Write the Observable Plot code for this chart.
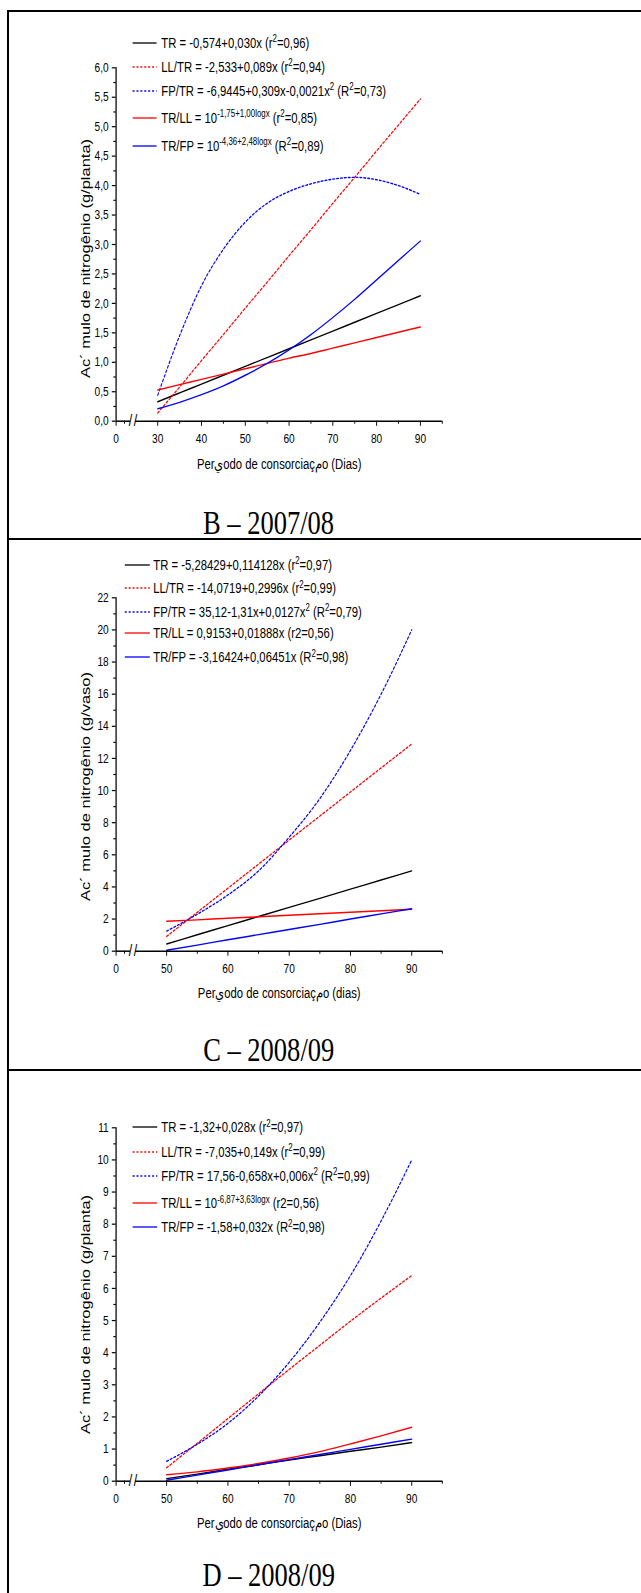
<!DOCTYPE html>
<html>
<head>
<meta charset="utf-8">
<script src="https://cdn.jsdelivr.net/npm/d3@7"></script>
<script src="https://cdn.jsdelivr.net/npm/@observablehq/plot@0.6"></script>
<style>
  body { margin: 0; background: #fff; }
  #page { position: relative; width: 641px; height: 1593px; overflow: hidden; background: #fff;
          font-family: "Liberation Sans", Arial, sans-serif; color: #000; }
  #inner { position: absolute; left: 0; top: 0; height: 1593px; transform-origin: 0 0; }
  .panel { position: absolute; left: 0; }
  .hline { position: absolute; left: 7px; right: 0; height: 2px; background: #000; z-index: 5; }
  .vline { position: absolute; left: 7px; top: 10px; width: 2px; bottom: 0; background: #000; z-index: 5; }
  .title { position: absolute; font-family: "Liberation Serif", "Times New Roman", serif; font-size: 34px;
           line-height: 0.7; white-space: nowrap; transform: translate(-50%, -50%); z-index: 4; }
  .leg { position: absolute; height: 16px; z-index: 4; white-space: nowrap; }
  .leg svg { position: absolute; left: 0; top: 0; overflow: visible; }
  .leg span { position: absolute; top: 0; font-size: 14.5px; line-height: 16px; }
  .leg sup { font-size: 0.7em; vertical-align: 0; position: relative; top: -0.55em; }
</style>
</head>
<body>
<div id="page"><div id="inner"></div></div>
<script>
// ---------------- data ----------------
const seriesKeys = ["TR", "LL/TR", "FP/TR", "TR/LL", "TR/FP"];

// Panel B – 2007/08
const daysB = [30, 35, 40, 45, 50, 55, 60, 65, 70, 75, 80, 85, 90];
const trB   = [0.33, 0.48, 0.63, 0.78, 0.93, 1.08, 1.23, 1.38, 1.53, 1.68, 1.83, 1.98, 2.13];
const lltrB = [0.14, 0.58, 1.03, 1.47, 1.92, 2.36, 2.81, 3.25, 3.70, 4.14, 4.59, 5.03, 5.47];
const fptrB = [0.44, 1.45, 2.30, 2.92, 3.38, 3.70, 3.90, 4.03, 4.11, 4.14, 4.10, 4.00, 3.85];
const trllB = [0.53, 0.62, 0.71, 0.80, 0.89, 0.98, 1.07, 1.15, 1.24, 1.33, 1.42, 1.51, 1.60];
const trfpB = [0.21, 0.32, 0.45, 0.60, 0.78, 0.98, 1.21, 1.47, 1.76, 2.07, 2.40, 2.73, 3.06];
const eqB = [
  "TR = -0,574+0,030x (r<sup>2</sup>=0,96)",
  "LL/TR = -2,533+0,089x (r<sup>2</sup>=0,94)",
  "FP/TR = -6,9445+0,309x-0,0021x<sup>2</sup> (R<sup>2</sup>=0,73)",
  "TR/LL = 10<sup>-1,75+1,00logx</sup> (r<sup>2</sup>=0,85)",
  "TR/FP = 10<sup>-4,36+2,48logx</sup> (R<sup>2</sup>=0,89)"
];
const yTicksB = [0, 0.5, 1, 1.5, 2, 2.5, 3, 3.5, 4, 4.5, 5, 5.5, 6];
const yMinorB = [0.25, 0.75, 1.25, 1.75, 2.25, 2.75, 3.25, 3.75, 4.25, 4.75, 5.25, 5.75];
const xTicksB = [0, 30, 40, 50, 60, 70, 80, 90];
const xMinorB = [5, 35, 45, 55, 65, 75, 85, 95];

// Panel C – 2008/09
const daysC = [50, 55, 60, 65, 70, 75, 80, 85, 90];
const trC   = [0.45, 1.02, 1.59, 2.16, 2.73, 3.29, 3.86, 4.43, 5.00];
const lltrC = [0.92, 2.42, 3.92, 5.42, 6.92, 8.41, 9.91, 11.41, 12.90];
const fptrC = [1.25, 2.30, 3.50, 5.00, 7.10, 9.50, 12.50, 16.00, 20.00];
const trllC = [1.86, 1.95, 2.05, 2.14, 2.24, 2.33, 2.42, 2.52, 2.61];
const trfpC = [0.06, 0.38, 0.71, 1.03, 1.35, 1.67, 2.00, 2.32, 2.64];
const eqC = [
  "TR = -5,28429+0,114128x (r<sup>2</sup>=0,97)",
  "LL/TR = -14,0719+0,2996x (r<sup>2</sup>=0,99)",
  "FP/TR = 35,12-1,31x+0,0127x<sup>2</sup> (R<sup>2</sup>=0,79)",
  "TR/LL = 0,9153+0,01888x (r2=0,56)",
  "TR/FP = -3,16424+0,06451x (R<sup>2</sup>=0,98)"
];
const yTicksC = [0, 2, 4, 6, 8, 10, 12, 14, 16, 18, 20, 22];
const yMinorC = [1, 3, 5, 7, 9, 11, 13, 15, 17, 19, 21];
const xTicksC = [0, 50, 60, 70, 80, 90];
const xMinorC = [5, 55, 65, 75, 85, 95];

// Panel D – 2008/09
const daysD = [50, 55, 60, 65, 70, 75, 80, 85, 90];
const trD   = [0.08, 0.22, 0.37, 0.51, 0.66, 0.79, 0.93, 1.06, 1.20];
const lltrD = [0.42, 1.18, 1.95, 2.72, 3.48, 4.23, 4.98, 5.70, 6.40];
const fptrD = [0.62, 1.15, 1.80, 2.65, 3.70, 4.95, 6.40, 8.10, 10.00];
const trllD = [0.20, 0.29, 0.41, 0.55, 0.72, 0.92, 1.16, 1.41, 1.68];
const trfpD = [0.03, 0.19, 0.35, 0.51, 0.67, 0.83, 0.99, 1.15, 1.31];
const eqD = [
  "TR = -1,32+0,028x (r<sup>2</sup>=0,97)",
  "LL/TR = -7,035+0,149x (r<sup>2</sup>=0,99)",
  "FP/TR = 17,56-0,658x+0,006x<sup>2</sup> (R<sup>2</sup>=0,99)",
  "TR/LL = 10<sup>-6,87+3,63logx</sup> (r2=0,56)",
  "TR/FP = -1,58+0,032x (R<sup>2</sup>=0,98)"
];
const yTicksD = [0, 1, 2, 3, 4, 5, 6, 7, 8, 9, 10, 11];
const yMinorD = [0.5, 1.5, 2.5, 3.5, 4.5, 5.5, 6.5, 7.5, 8.5, 9.5, 10.5];
const xTicksD = [0, 50, 60, 70, 80, 90];
const xMinorD = [5, 55, 65, 75, 85, 95];

const yLabelB = "Ac\u00B4 mulo de nitrogênio (g/planta)";
const yLabelC = "Ac\u00B4 mulo de nitrogênio (g/vaso)";
const yLabelD = "Ac\u00B4 mulo de nitrogênio (g/planta)";
const xLabelB = "Per\u064Aodo de consorcia\u00E7\u0645o (Dias)";
const xLabelC = "Per\u064Aodo de consorcia\u00E7\u0645o (dias)";
const xLabelD = "Per\u064Aodo de consorcia\u00E7\u0645o (Dias)";
const titles = ["B \u2013 2007/08", "C \u2013 2008/09", "D \u2013 2008/09"];

// ---------------- styling / layout ----------------
const S = 0.78;                 // the original figure is horizontally condensed
const U = v => v / S;           // page x -> unscaled x
const W = 641 / S;
const inner = document.getElementById("inner");
inner.style.width = W + "px";
inner.style.transform = `scaleX(${S})`;

const styleOf = {
  "TR":    {stroke: "#000000", dash: null},
  "LL/TR": {stroke: "#ff0000", dash: "2.5,2.5"},
  "FP/TR": {stroke: "#0000ff", dash: "2.5,2.5"},
  "TR/LL": {stroke: "#ff0000", dash: null},
  "TR/FP": {stroke: "#0000ff", dash: null}
};
const FONT = "Liberation Sans, Arial, sans-serif";

function makePanel(cfg) {
  const rows = [];
  cfg.series.forEach((vals, si) => {
    vals.forEach((v, i) => rows.push({day: cfg.days[i], value: v, key: seriesKeys[si]}));
  });
  const dom = cfg.xDomain;                       // [0, breakStart, breakEnd, max]
  const yMin = cfg.yDomain[0], yMax = cfg.yDomain[1];
  const marks = [];
  for (const k of seriesKeys) {
    marks.push(Plot.line(rows.filter(r => r.key === k), {
      x: "day", y: "value", stroke: styleOf[k].stroke, strokeDasharray: styleOf[k].dash,
      strokeWidth: 1.4, curve: "monotone-x"
    }));
  }
  // axis lines (x axis interrupted by the break)
  marks.push(Plot.ruleX([dom[0]], {y1: yMin, y2: yMax, stroke: "#000", strokeWidth: 1.6}));
  marks.push(Plot.ruleY([yMin], {x1: dom[0], x2: dom[1], stroke: "#000", strokeWidth: 1.5}));
  marks.push(Plot.ruleY([yMin], {x1: dom[2], x2: dom[3], stroke: "#000", strokeWidth: 1.5}));
  marks.push(Plot.text([dom[1], dom[2]], {x: d => d, y: yMin, text: () => "/", fontSize: 16, fill: "#000",
    fontFamily: FONT, lineAnchor: "middle", textAnchor: "middle"}));
  // ticks
  marks.push(Plot.axisY(cfg.yTicks, {tickSize: 5, tickPadding: 4.5, tickFormat: cfg.yFmt, fontSize: 13,
    label: null, stroke: "#000", strokeWidth: 1.2, fill: "#000"}));
  marks.push(Plot.axisY(cfg.yMinor, {tickSize: 3, tickFormat: () => "", label: null, stroke: "#000", strokeWidth: 1.2}));
  marks.push(Plot.axisX(cfg.xTicks, {tickSize: 5, tickPadding: 7.5, tickFormat: d => String(d), fontSize: 13,
    label: null, stroke: "#000", strokeWidth: 1.2, fill: "#000"}));
  marks.push(Plot.axisX(cfg.xMinor, {tickSize: 3, tickFormat: () => "", label: null, stroke: "#000", strokeWidth: 1.2}));
  // axis titles
  marks.push(Plot.text([cfg.xLabel], {frameAnchor: "bottom", text: d => d, dy: cfg.xLabelDy, fontSize: 14.5,
    lineAnchor: "middle", textAnchor: "middle", fill: "#000", fontFamily: FONT}));
  marks.push(Plot.text([cfg.yLabel], {frameAnchor: "left", text: d => d, rotate: -90, dx: U(-30.7), dy: cfg.yLabelDy,
    fontSize: 16.5, lineAnchor: "middle", textAnchor: "middle", fill: "#000", fontFamily: FONT}));

  const xr = cfg.xRange.map(U);
  const svg = Plot.plot({
    width: W, height: cfg.height,
    marginLeft: xr[0], marginRight: W - xr[xr.length - 1],
    marginTop: cfg.marginTop, marginBottom: cfg.marginBottom,
    style: {fontFamily: FONT, fontSize: "13px", background: "transparent", overflow: "visible", color: "#000"},
    x: {type: "linear", domain: dom, range: xr, axis: null},
    y: {domain: cfg.yDomain, axis: null},
    marks
  });
  const wrap = document.createElement("div");
  wrap.className = "panel";
  wrap.style.top = cfg.top + "px";
  wrap.appendChild(svg);
  inner.appendChild(wrap);

  // legend (inside plot area, upper left)
  cfg.equations.forEach((eq, i) => {
    const k = seriesKeys[i];
    const row = document.createElement("div");
    row.className = "leg";
    row.style.left = U(cfg.leg.x1) + "px";
    row.style.top = (cfg.leg.rows[i] - 8) + "px";
    const w = U(cfg.leg.x2 - cfg.leg.x1);
    row.innerHTML = `<svg width="${w}" height="16"><line x1="0" x2="${w}" y1="8" y2="8" stroke="${styleOf[k].stroke}" stroke-width="1.3" ${styleOf[k].dash ? `stroke-dasharray="${styleOf[k].dash}"` : ""}/></svg><span style="left:${U(cfg.leg.tx - cfg.leg.x1)}px">${eq}</span>`;
    inner.appendChild(row);
  });
  const t = document.createElement("div");
  t.className = "title";
  t.textContent = cfg.title;
  t.style.left = U(cfg.titlePos[0]) + "px";
  t.style.top = cfg.titlePos[1] + "px";
  inner.appendChild(t);
}

makePanel({
  top: 0, height: 490, marginTop: 67.3, marginBottom: 69.3,
  days: daysB, series: [trB, lltrB, fptrB, trllB, trfpB],
  xDomain: [0, 8.5, 24.9, 95], xRange: [115.7, 130, 135, 441.9],
  yDomain: [0, 6], yTicks: yTicksB, yMinor: yMinorB, yFmt: d => d.toFixed(1).replace(".", ","),
  xTicks: xTicksB, xMinor: xMinorB,
  xLabel: xLabelB, yLabel: yLabelB, xLabelDy: 43.3, yLabelDy: 14,
  equations: eqB, leg: {x1: 132.7, x2: 156.7, tx: 161.3, rows: [42.7, 66.7, 90.7, 118, 145.7]},
  title: titles[0], titlePos: [268.5, 523.3]
});
makePanel({
  top: 540, height: 470, marginTop: 57.3, marginBottom: 59.3,
  days: daysC, series: [trC, lltrC, fptrC, trllC, trfpC],
  xDomain: [0, 8.5, 44.9, 95], xRange: [115.7, 130, 135, 442],
  yDomain: [0, 22], yTicks: yTicksC, yMinor: yMinorC, yFmt: d => String(d),
  xTicks: xTicksC, xMinor: xMinorC,
  xLabel: xLabelC, yLabel: yLabelC, xLabelDy: 42.6, yLabelDy: 12,
  equations: eqC, leg: {x1: 125, x2: 150, tx: 153.3, rows: [565, 588.3, 611.7, 633.3, 657.3]},
  title: titles[1], titlePos: [268.7, 1050]
});
makePanel({
  top: 1072, height: 470, marginTop: 55.3, marginBottom: 61.3,
  days: daysD, series: [trD, lltrD, fptrD, trllD, trfpD],
  xDomain: [0, 8.5, 44.9, 95], xRange: [115.7, 130, 135, 442],
  yDomain: [0, 11], yTicks: yTicksD, yMinor: yMinorD, yFmt: d => String(d),
  xTicks: xTicksD, xMinor: xMinorD,
  xLabel: xLabelD, yLabel: yLabelD, xLabelDy: 42, yLabelDy: 10,
  equations: eqD, leg: {x1: 132.7, x2: 157.3, tx: 161.3, rows: [1127.3, 1151.7, 1176, 1203.3, 1227.3]},
  title: titles[2], titlePos: [268.7, 1575]
});

// frame lines
const page = document.getElementById("page");
for (const y of [10, 538, 1069]) {
  const h = document.createElement("div");
  h.className = "hline"; h.style.top = y + "px"; page.appendChild(h);
}
const v = document.createElement("div"); v.className = "vline"; page.appendChild(v);
</script>
</body>
</html>
